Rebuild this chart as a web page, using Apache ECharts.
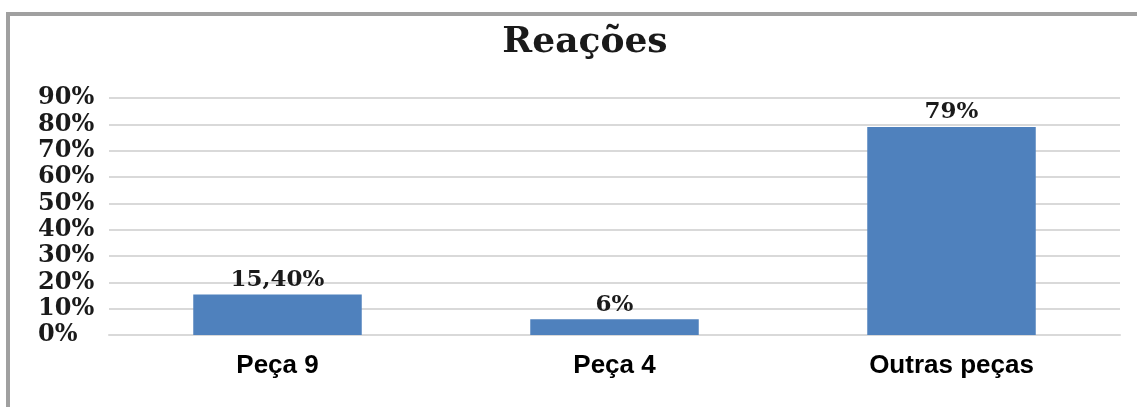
<!DOCTYPE html>
<html>
<head>
<meta charset="utf-8">
<script src="https://cdn.jsdelivr.net/npm/echarts@6/dist/echarts.min.js"></script>
<style>
  html, body { margin: 0; padding: 0; background: #fff; }
  #main { width: 1137px; height: 407px; }
</style>
</head>
<body>
<div id="main"></div>
<script>
// dados do gráfico
var categorias = ["Peça 9", "Peça 4", "Outras peças"];
var valores = [15.4, 6, 79];
var rotulos = ["15,40%", "6%", "79%"];

var chart = echarts.init(document.getElementById("main"));

var options = {
  backgroundColor: "#fff",
  animation: false,
  title: {
    text: "Reações",
    left: 580,
    top: 20,
    textAlign: "center",
    textStyle: {
      fontFamily: "DejaVu Serif",
      fontWeight: "bold",
      fontSize: 36,
      color: "#1a1a1a"
    }
  },
  graphic: [
    {
      type: "polyline",
      shape: { points: [[8, 407], [8, 14], [1137, 14]] },
      style: { stroke: "#a0a0a0", lineWidth: 4, fill: null }
    }
  ],
  grid: { left: 109, right: 17, top: 98, bottom: 72 },
  xAxis: {
    type: "category",
    data: categorias,
    axisLine: { show: true, lineStyle: { color: "#d9d9d9", width: 2 } },
    axisTick: { show: false },
    axisLabel: {
      margin: 18,
      fontFamily: "Liberation Sans",
      fontWeight: "bold",
      fontSize: 26,
      color: "#000"
    }
  },
  yAxis: {
    type: "value",
    min: 0,
    max: 90,
    interval: 10,
    axisLine: { show: false },
    axisTick: { show: false },
    splitLine: { lineStyle: { color: "#d9d9d9", width: 2 } },
    axisLabel: {
      margin: 71,
      align: "left",
      formatter: "{value}%",
      fontFamily: "DejaVu Serif",
      fontWeight: "bold",
      fontSize: 24,
      color: "#1a1a1a"
    }
  },
  series: [
    {
      type: "bar",
      data: valores,
      barWidth: "50%",
      itemStyle: { color: "#4f81bd" },
      label: {
        show: true,
        position: "top",
        distance: 3,
        formatter: function (p) { return rotulos[p.dataIndex]; },
        fontFamily: "DejaVu Serif",
        fontWeight: "bold",
        fontSize: 23,
        color: "#1a1a1a"
      }
    }
  ]
};

chart.setOption(options);
</script>
</body>
</html>
